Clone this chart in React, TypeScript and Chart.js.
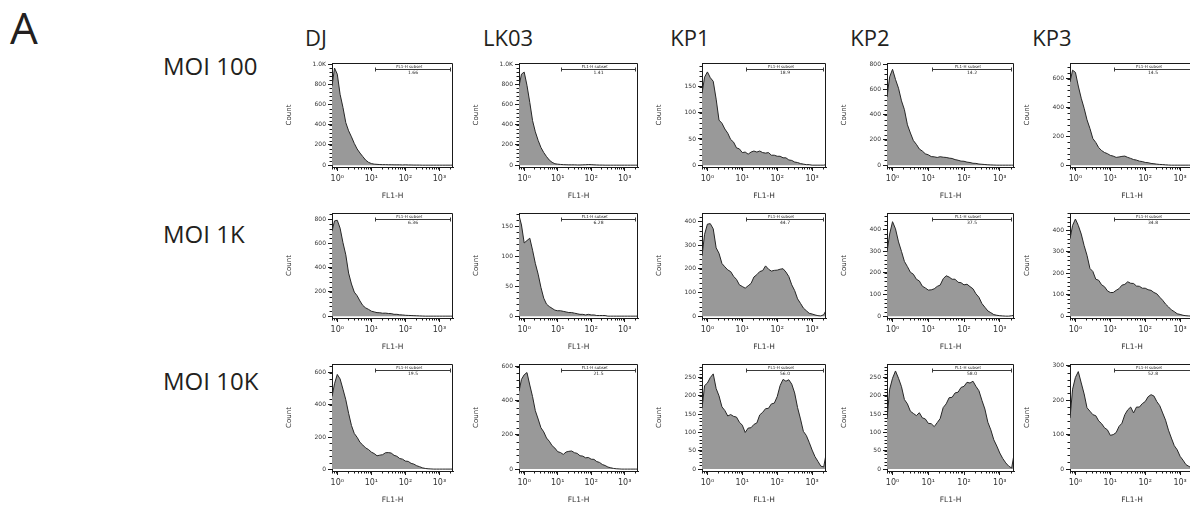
import React, { useEffect, useRef } from "react";
import { Chart, registerables } from "chart.js";

Chart.register(...registerables);

// ---------- data ----------
const fl1Grid = [0.7, 0.83, 1, 1.21, 1.47, 1.78, 2.15, 2.61, 3.16, 3.83, 4.64, 5.62, 6.81, 8.25, 10, 12.1, 14.7, 17.8, 21.5, 26.1, 31.6, 38.3, 46.4, 56.2, 68.1, 82.5, 100, 121, 147, 178, 215, 261, 316, 383, 464, 562, 681, 825, 1000, 1210, 1470, 1780, 2150, 2500];

const strains = ["DJ", "LK03", "KP1", "KP2", "KP3"];
const mois = ["MOI 100", "MOI 1K", "MOI 10K"];

// MOI 100
const dj100 = [780, 960, 900, 700, 570, 420, 340, 280, 215, 160, 120, 85, 50, 28, 16, 10, 8, 6, 5, 5, 4, 4, 3, 3, 3, 2, 3, 2, 2, 1, 1, 1, 0, 0, 0, 0, 0, 0, 0, 0, 0, 0, 0, 0];
const lk03_100 = [780, 900, 920, 790, 620, 440, 330, 245, 175, 125, 85, 50, 28, 14, 10, 7, 5, 4, 3, 3, 3, 2, 2, 3, 4, 6, 5, 3, 2, 1, 1, 0, 0, 0, 0, 0, 0, 0, 0, 0, 0, 0, 0, 0];
const kp1_100 = [137, 168, 178, 167, 160, 126, 86, 80, 69, 61, 49, 44, 33, 31, 24, 25, 21, 25, 27, 25, 27, 24, 23, 24, 19, 19, 17, 17, 14, 14, 10, 9, 6, 5, 3, 2, 1, 1, 0, 0, 0, 0, 0, 1];
const kp2_100 = [540, 700, 760, 680, 610, 510, 440, 320, 255, 195, 165, 128, 112, 90, 82, 68, 66, 61, 67, 63, 61, 56, 53, 44, 39, 32, 31, 24, 21, 15, 14, 9, 7, 5, 3, 2, 1, 0, 0, 0, 0, 0, 0, 0];
const kp3_100 = [578, 660, 645, 550, 465, 395, 315, 255, 185, 158, 122, 102, 88, 80, 68, 63, 54, 57, 61, 63, 54, 47, 39, 35, 28, 25, 19, 17, 12, 10, 7, 5, 4, 2, 1, 0, 0, 0, 0, 0, 0, 0, 0, 0];

// MOI 1K
const dj1k = [700, 785, 790, 725, 605, 505, 355, 265, 198, 168, 125, 88, 68, 56, 41, 35, 29, 28, 24, 25, 22, 21, 15, 15, 11, 10, 7, 6, 5, 4, 3, 2, 1, 0, 0, 0, 0, 0, 0, 0, 0, 0, 0, 0];
const lk03_1k = [168, 152, 122, 126, 130, 110, 88, 70, 48, 30, 20, 16, 13, 10, 9, 9, 8, 7, 6, 6, 5, 4, 3, 3, 2, 3, 2, 2, 1, 1, 1, 1, 0, 0, 0, 0, 0, 0, 0, 0, 0, 0, 0, 0];
const kp1_1k = [254, 345, 388, 390, 368, 288, 265, 222, 208, 195, 188, 168, 155, 132, 125, 118, 128, 138, 165, 175, 188, 192, 212, 198, 190, 193, 194, 198, 200, 186, 167, 132, 108, 73, 54, 34, 23, 12, 9, 5, 2, 1, 6, 24];
const kp2_1k = [295, 378, 435, 402, 342, 298, 252, 228, 202, 193, 170, 162, 138, 130, 120, 121, 126, 137, 143, 172, 186, 180, 170, 170, 156, 154, 144, 147, 136, 126, 103, 87, 58, 41, 24, 16, 7, 4, 2, 1, 0, 0, 2, 4];
const kp3_1k = [360, 422, 452, 422, 382, 328, 283, 222, 208, 172, 167, 146, 137, 118, 110, 110, 120, 128, 144, 148, 160, 153, 152, 140, 139, 130, 130, 123, 120, 110, 104, 88, 74, 56, 43, 29, 21, 11, 8, 4, 2, 1, 0, 0];

// MOI 10K
const dj10k = [452, 532, 590, 562, 498, 432, 348, 272, 222, 198, 167, 150, 132, 122, 106, 97, 83, 87, 90, 102, 103, 100, 86, 80, 66, 62, 50, 48, 36, 31, 21, 15, 8, 4, 2, 1, 0, 0, 0, 0, 0, 0, 0, 0];
const lk03_10k = [455, 525, 552, 565, 492, 424, 342, 293, 242, 218, 182, 163, 137, 123, 102, 97, 86, 100, 104, 106, 96, 92, 78, 76, 66, 68, 58, 57, 44, 39, 27, 21, 12, 8, 4, 2, 1, 0, 0, 0, 0, 0, 0, 0];
const kp1_10k = [166, 228, 235, 250, 260, 220, 200, 170, 160, 145, 149, 144, 142, 128, 120, 100, 112, 113, 122, 126, 148, 155, 165, 166, 178, 180, 198, 228, 245, 240, 244, 232, 208, 168, 137, 103, 92, 73, 52, 34, 21, 8, 6, 40];
const kp2_10k = [137, 218, 248, 268, 248, 225, 190, 178, 158, 152, 146, 154, 140, 137, 125, 124, 116, 127, 138, 168, 178, 195, 196, 208, 210, 223, 226, 237, 235, 240, 226, 214, 188, 164, 128, 107, 80, 63, 44, 29, 17, 8, 3, 40];
const kp3_10k = [148, 232, 266, 283, 250, 218, 178, 168, 158, 155, 140, 132, 120, 114, 98, 100, 106, 124, 133, 158, 172, 180, 163, 180, 180, 190, 196, 210, 216, 212, 196, 184, 163, 142, 113, 90, 68, 56, 37, 26, 13, 8, 3, 2];

const seriesGrid = [
  [dj100, lk03_100, kp1_100, kp2_100, kp3_100],
  [dj1k, lk03_1k, kp1_1k, kp2_1k, kp3_1k],
  [dj10k, lk03_10k, kp1_10k, kp2_10k, kp3_10k],
];

const yMaxGrid = [
  [1010, 1010, 195, 810, 710],
  [850, 172, 435, 475, 480],
  [655, 615, 287, 287, 305],
];

const ticks200to1000 = [0, 200, 400, 600, 800, 1000];
const ticks200to800 = [0, 200, 400, 600, 800];
const ticks200to600 = [0, 200, 400, 600];
const ticks50to150 = [0, 50, 100, 150];
const ticks50to250 = [0, 50, 100, 150, 200, 250];
const ticks100to400 = [0, 100, 200, 300, 400];
const ticks100to300 = [0, 100, 200, 300];

const yTickGrid = [
  [ticks200to1000, ticks200to1000, ticks50to150, ticks200to800, ticks200to600],
  [ticks200to800, ticks50to150, ticks100to400, ticks100to400, ticks100to400],
  [ticks200to600, ticks200to600, ticks50to250, ticks50to250, ticks100to300],
];

const gateValues = [
  ["1.66", "1.41", "18.9", "14.2", "14.5"],
  ["6.36", "6.28", "44.7", "37.5", "34.8"],
  ["19.5", "21.5", "56.0", "58.0", "52.8"],
];
const gateLabel = "FL1-H subset";
const gateStart = 12.6;

const xTickValues = [1, 10, 100, 1000];
const xTickLabels = ["10\u2070", "10\u00B9", "10\u00B2", "10\u00B3"];
const xMinorMultipliers = [2, 3, 4, 5, 6, 7, 8, 9];
const xDecades = [0.1, 1, 10, 100, 1000];

// ---------- layout ----------
const colLeft = [332, 519, 702, 887, 1070];
const colW = [121, 119, 124, 127, 124];
const rowTop = [63, 213, 364];
const rowH = [104, 105, 107];
const headerX = [316, 508, 690, 870, 1052];
const rowLabelY = [67, 235, 382];

const Y_W = 47;
const PAD_T = 8;
const PAD_R = 10;
const X_H = 34;
const PAD_B = 2;

const TICK_FONT = "'DejaVu Sans', sans-serif";
const LABEL_FONT = "'Open Sans', 'Noto Sans', sans-serif";

const flowDecor = {
  id: "flowDecor",
  afterDraw(chart: any, _args: any, opts: any) {
    const { ctx, chartArea, scales } = chart;
    const { left, right, top, bottom } = chartArea;
    const x = scales.x;
    const y = scales.y;
    ctx.save();
    ctx.strokeStyle = "#1a1a1a";
    ctx.lineWidth = 1;
    // top & right frame
    ctx.beginPath();
    ctx.moveTo(left, top + 0.5);
    ctx.lineTo(right - 0.5, top + 0.5);
    ctx.lineTo(right - 0.5, bottom);
    ctx.stroke();
    // minor x ticks
    ctx.beginPath();
    for (const d of xDecades) {
      for (const m of xMinorMultipliers) {
        const v = m * d;
        if (v <= x.min || v >= x.max) continue;
        const px = Math.round(x.getPixelForValue(v)) + 0.5;
        ctx.moveTo(px, bottom);
        ctx.lineTo(px, bottom + 2.5);
      }
    }
    // minor y ticks
    const step = opts.minorStep;
    for (let v = 0; v <= y.max; v += step) {
      const py = Math.round(y.getPixelForValue(v)) + 0.5;
      ctx.moveTo(left, py);
      ctx.lineTo(left - 2.5, py);
    }
    ctx.stroke();
    // gate
    const xs = Math.round(x.getPixelForValue(gateStart)) + 0.5;
    const xe = right - 2.5;
    const gy = Math.round(y.getPixelForValue(y.max * 0.945)) + 0.5;
    ctx.strokeStyle = "#3a3a3a";
    ctx.beginPath();
    ctx.moveTo(xs, gy);
    ctx.lineTo(xe, gy);
    ctx.moveTo(xs, gy - 2);
    ctx.lineTo(xs, gy + 2);
    ctx.moveTo(xe, gy - 2);
    ctx.lineTo(xe, gy + 2);
    ctx.stroke();
    ctx.fillStyle = "#222";
    ctx.textAlign = "center";
    ctx.font = `4px ${TICK_FONT}`;
    ctx.textBaseline = "bottom";
    ctx.fillText(gateLabel, xs + (xe - xs) * 0.45, gy - 0.3);
    ctx.font = `4.5px ${TICK_FONT}`;
    ctx.textBaseline = "top";
    ctx.fillText(opts.gateValue, xs + (xe - xs) * 0.5, gy + 1.2);
    ctx.restore();
  },
};

function fmtY(v: number) {
  return v >= 1000 ? (v / 1000).toFixed(1) + "K" : String(v);
}

function Histogram({ r, c }: { r: number; c: number }) {
  const ref = useRef<HTMLCanvasElement>(null);
  const plotW = colW[c];
  const plotH = rowH[r];
  const W = Y_W + plotW + PAD_R;
  const H = PAD_T + plotH + X_H + PAD_B;
  useEffect(() => {
    const values = seriesGrid[r][c];
    const yMax = yMaxGrid[r][c];
    const yTicks = yTickGrid[r][c];
    const chart = new Chart(ref.current as HTMLCanvasElement, {
      type: "line",
      data: {
        datasets: [
          {
            data: fl1Grid.map((x, i) => ({ x, y: values[i] })),
            borderColor: "#262626",
            borderWidth: 1,
            backgroundColor: "#999999",
            fill: "origin",
            pointRadius: 0,
            tension: 0,
          },
        ],
      },
      options: {
        animation: false,
        responsive: false,
        events: [],
        layout: { padding: { left: 0, top: PAD_T, right: PAD_R, bottom: PAD_B } },
        plugins: {
          legend: { display: false },
          tooltip: { enabled: false },
          flowDecor: { gateValue: gateValues[r][c], minorStep: (yTicks[1] - yTicks[0]) / 5 },
        } as any,
        scales: {
          x: {
            type: "logarithmic",
            min: 0.7,
            max: 2500,
            afterBuildTicks: (s: any) => {
              s.ticks = xTickValues.map((v) => ({ value: v, major: true }));
            },
            afterFit: (s: any) => {
              s.height = X_H;
            },
            ticks: {
              callback: (_v: any, i: number) => xTickLabels[i],
              font: { family: TICK_FONT, size: 8 },
              color: "#333",
              padding: 3,
              maxRotation: 0,
              autoSkip: false,
            },
            grid: { drawOnChartArea: false, tickLength: 4, color: "#1a1a1a" },
            border: { color: "#1a1a1a", width: 1 },
            title: {
              display: true,
              text: "FL1-H",
              font: { family: TICK_FONT, size: 7.5 },
              color: "#333",
              padding: 0,
            },
          } as any,
          y: {
            min: -yMax * 0.018,
            max: yMax,
            afterBuildTicks: (s: any) => {
              s.ticks = yTicks.map((v) => ({ value: v }));
            },
            afterFit: (s: any) => {
              s.width = Y_W;
            },
            ticks: {
              callback: (v: any) => fmtY(Number(v)),
              font: { family: TICK_FONT, size: 6 },
              color: "#333",
              padding: 2,
            },
            grid: { drawOnChartArea: false, tickLength: 4, color: "#1a1a1a" },
            border: { color: "#1a1a1a", width: 1 },
            title: {
              display: true,
              text: "Count",
              font: { family: TICK_FONT, size: 7 },
              color: "#333",
              padding: 0,
            },
          } as any,
        },
      },
      plugins: [flowDecor as any],
    });
    return () => chart.destroy();
  }, [r, c]);
  return (
    <canvas
      ref={ref}
      width={W}
      height={H}
      style={{
        position: "absolute",
        left: colLeft[c] - Y_W,
        top: rowTop[r] - PAD_T,
        width: W,
        height: H,
      }}
    />
  );
}

export default function App() {
  const textColor = "#231f20";
  return (
    <div
      style={{
        position: "fixed",
        left: 0,
        top: 0,
        width: 1190,
        height: 506,
        overflow: "hidden",
        background: "#fff",
        fontFamily: LABEL_FONT,
        color: textColor,
      }}
    >
      <div style={{ position: "absolute", left: 10, top: 28 - 0.531 * 44, fontSize: 44, lineHeight: 1 }}>A</div>
      {strains.map((s, i) => (
        <div
          key={s}
          style={{
            position: "absolute",
            left: headerX[i],
            top: 37.5 - 0.531 * 22,
            fontSize: 22,
            lineHeight: 1,
            transform: "translateX(-50%)",
            whiteSpace: "nowrap",
          }}
        >
          {s}
        </div>
      ))}
      {mois.map((m, i) => (
        <div
          key={m}
          style={{
            position: "absolute",
            left: 163,
            top: rowLabelY[i] - 0.531 * 24,
            fontSize: 24,
            lineHeight: 1,
            whiteSpace: "nowrap",
          }}
        >
          {m}
        </div>
      ))}
      {mois.map((_, r) => strains.map((__, c) => <Histogram key={`${r}-${c}`} r={r} c={c} />))}
    </div>
  );
}
